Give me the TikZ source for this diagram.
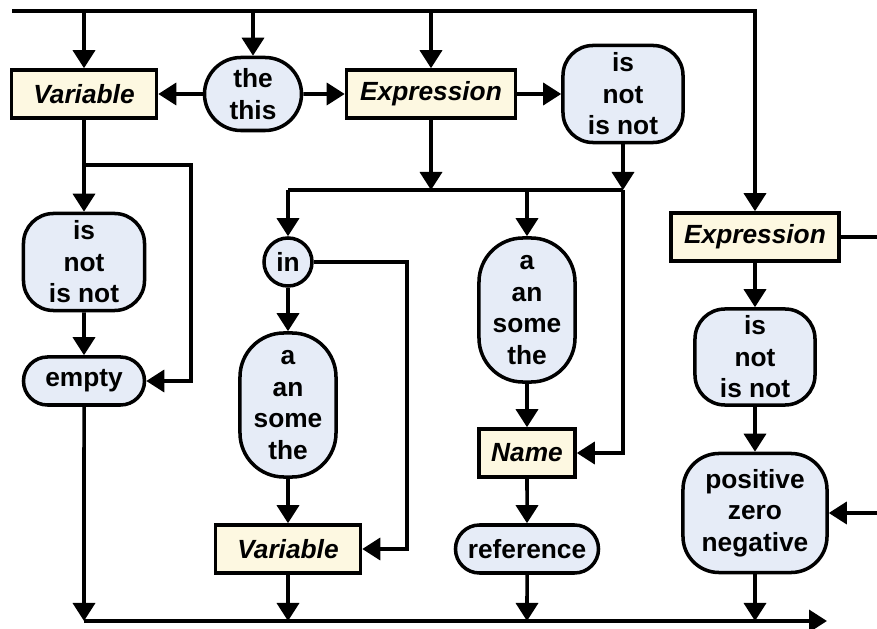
\documentclass[tikz,border=0pt]{standalone}
\usepackage{fontspec}
\setmainfont{Liberation Sans}
\usepackage{tikz}
\usetikzlibrary{positioning,calc}
\usetikzlibrary{arrows.meta,shapes.misc}
\definecolor{TermBlue}{RGB}{230,236,247}
\definecolor{RuleCream}{RGB}{253,248,225}
\tikzset{
  wire/.style={draw=black,line width=2.5pt},
  arr/.style={wire,-{Triangle[length=0.45cm,width=0.55cm]}},
  rule/.style={rectangle,draw=black,line width=2.5pt,fill=RuleCream,inner sep=0pt,
    minimum height=1.2cm,font=\fontsize{18.7}{22.4}\selectfont\bfseries\itshape},
  word/.style={rectangle,draw=black,line width=2.5pt,fill=TermBlue,inner sep=0pt,
    align=center,font=\fontsize{18.7}{22.4}\selectfont\bfseries},
}
\tikzset{pill/.style={word,rounded rectangle,minimum height=1.2cm}, ring/.style={word,circle,minimum size=1.2cm}}

\begin{document}
\begin{tikzpicture}[x=0.025cm,y=-0.025cm]
\useasboundingbox (0,0) rectangle (877,629);
% rails
\coordinate (top0) at (12,11);
\coordinate (bot0) at (84,621);
\coordinate (bot1) at (827,621);
\coordinate (join) at (288,190);
\coordinate (vbr) at (191,165);
\coordinate (inbr) at (407,262);
\coordinate (exout) at (877,237);
\coordinate (exin) at (877,513);
% first row
\node[rule,minimum width=3.625cm] (var1) at (84,94) {Variable};
\node[pill,minimum width=2.425cm,minimum height=1.825cm] (thethis) at (253,94) {the\\this};
\node[rule,minimum width=4.225cm] (expr1) at (431,94) {Expression};
\node[word,rounded corners=0.75cm,minimum width=3cm,minimum height=2.425cm] (isnot1) at (623,94) {is\\not\\is not};
% left column
\node[word,rounded corners=0.75cm,minimum width=3.025cm,minimum height=2.425cm] (isnot2) at (84,262) {is\\not\\is not};
\node[pill,minimum width=3.025cm] (empty) at (84,381) {empty};
% middle columns
\node[ring] (in) at (288,262) {in};
\node[word,rounded corners=1.1cm,minimum width=2.4cm,minimum height=3.6cm] (art1) at (288,405) {a\\an\\some\\the};
\node[rule,minimum width=3.625cm] (var2) at (288,549) {Variable};
\node[word,rounded corners=1.1cm,minimum width=2.4cm,minimum height=3.6cm] (art2) at (527,310) {a\\an\\some\\the};
\node[rule,minimum width=2.4cm] (name) at (527,453) {Name};
\node[pill,minimum width=3.575cm] (ref) at (527,549) {reference};
% right column
\node[rule,minimum width=4.2cm] (expr2) at (755,237) {Expression};
\node[word,rounded corners=0.75cm,minimum width=3cm,minimum height=2.4cm] (isnot3) at (755,357) {is\\not\\is not};
\node[word,rounded corners=0.9cm,minimum width=3.6cm,minimum height=2.975cm] (posz) at (755,513) {positive\\zero\\negative};

\draw[arr] (top0) -| (expr2);
\draw[arr] (var1 |- top0) -- (var1);
\draw[arr] (thethis |- top0) -- (thethis);
\draw[arr] (expr1 |- top0) -- (expr1);
\draw[arr] (thethis) -- (var1);
\draw[arr] (thethis) -- (expr1);
\draw[arr] (expr1) -- (isnot1);
% left branch
\draw[arr] (var1) -- (isnot2);
\draw[arr] (isnot2) -- (empty);
\draw[arr] (vbr -| var1) -- (vbr) |- (empty);
% join under the first row
\draw[arr] (expr1) -- (expr1 |- join);
\draw[arr] (isnot1) -- (isnot1 |- join);
\draw[wire] (join) -- (isnot1 |- join);
\draw[arr] (join) -- (in);
\draw[arr] (art2 |- join) -- (art2);
\draw[arr] (isnot1 |- join) |- (name);
\draw[arr] (in) -- (art1);
\draw[arr] (art1) -- (var2);
\draw[arr] (in) -- (inbr) |- (var2);
\draw[arr] (art2) -- (name);
\draw[arr] (name) -- (ref);
% right branch
\draw[wire] (expr2) -- (exout);
\draw[arr] (expr2) -- (isnot3);
\draw[arr] (isnot3) -- (posz);
\draw[arr] (exin) -- (posz);
% down to the exit rail
\draw[arr] (empty) -- (bot0);
\draw[arr] (var2) -- (var2 |- bot0);
\draw[arr] (ref) -- (ref |- bot0);
\draw[arr] (posz) -- (posz |- bot0);
\draw[arr] (bot0) -- (bot1);
\end{tikzpicture}
\end{document}
